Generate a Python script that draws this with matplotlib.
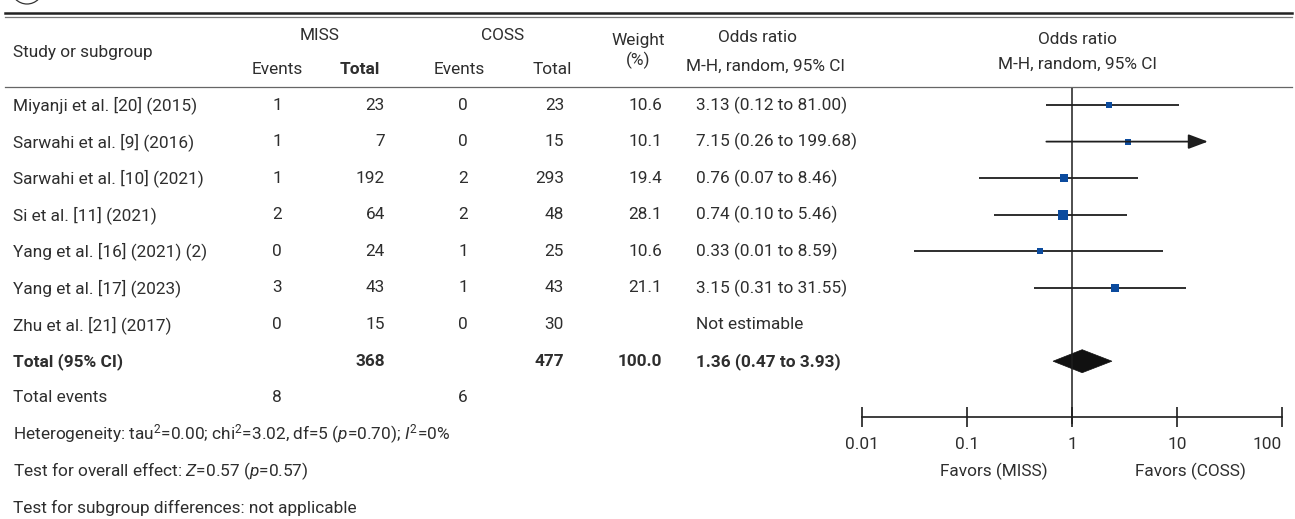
import numpy as np
import matplotlib
matplotlib.use("Agg")
import matplotlib.pyplot as plt
from matplotlib import font_manager
from matplotlib.patches import Polygon, Circle

# ---- data ----
studies = ["Miyanji et al. [20] (2015)", "Sarwahi et al. [9] (2016)",
           "Sarwahi et al. [10] (2021)", "Si et al. [11] (2021)",
           "Yang et al. [16] (2021) (2)", "Yang et al. [17] (2023)",
           "Zhu et al. [21] (2017)"]
miss_events = [1, 1, 1, 2, 0, 3, 0]
miss_total = [23, 7, 192, 64, 24, 43, 15]
coss_events = [0, 0, 2, 2, 1, 1, 0]
coss_total = [23, 15, 293, 48, 25, 43, 30]
weights = [10.6, 10.1, 19.4, 28.1, 10.6, 21.1, None]
or_text = ["3.13 (0.12 to 81.00)", "7.15 (0.26 to 199.68)", "0.76 (0.07 to 8.46)",
           "0.74 (0.10 to 5.46)", "0.33 (0.01 to 8.59)", "3.15 (0.31 to 31.55)",
           "Not estimable"]
# positions as drawn in the plot
or_pt = [2.25, 3.42, 0.84, 0.82, 0.50, 2.57, None]
or_lo = [0.57, 0.57, 0.13, 0.18, 0.031, 0.43, None]
or_hi = [10.5, 19.7, 4.25, 3.34, 7.4, 12.2, None]
or_arrow = [False, True, False, False, False, False, False]

total_miss, total_coss, total_weight = 368, 477, "100.0"
total_or_text = "1.36 (0.47 to 3.93)"
diamond = (0.66, 1.25, 2.40)  # lo, point, hi
events_miss, events_coss = 8, 6

het_text = r"Heterogeneity: tau$^2$=0.00; chi$^2$=3.02, df=5 ($p$=0.70); $I^2$=0%"
overall_text = r"Test for overall effect: $Z$=0.57 ($p$=0.57)"
subgroup_text = "Test for subgroup differences: not applicable"
xticks = [0.01, 0.1, 1, 10, 100]
xticklabels = ["0.01", "0.1", "1", "10", "100"]
favors = ["Favors (MISS)", "Favors (COSS)"]

# ---- style ----
avail = {f.name for f in font_manager.fontManager.ttflist}
fam = next(f for f in ["Roboto", "DejaVu Sans"] if f in avail)
plt.rcParams["font.family"] = [fam, "DejaVu Sans"]
plt.rcParams["mathtext.fontset"] = "custom"
plt.rcParams["mathtext.rm"] = fam
plt.rcParams["mathtext.it"] = fam + ":italic"
TXT = "#2e2e2e"
FS = 12.4
BLUE = "#0b4b9e"
LINE = "#1e1e1e"

W, H = 1295, 519
fig = plt.figure(figsize=(W / 100, H / 100), dpi=100)
tab = fig.add_axes([0, 0, 1, 1])
tab.set_xlim(0, W)
tab.set_ylim(H, 0)
tab.axis("off")

def row_y(i):
    return 105 + 36.6 * i

def t(x, y, s, ha="left", bold=False, **kw):
    tab.text(x, y, s, ha=ha, va="center", fontsize=FS, color=TXT,
             fontweight="bold" if bold else "normal", **kw)

# rules
tab.plot([5, 1292], [13, 13], color="#222222", lw=1.8)
tab.plot([5, 1292], [17, 17], color="#777777", lw=0.9)
tab.plot([5, 1292], [87, 87], color="#666666", lw=0.9)
tab.add_patch(Circle((27, -12), 16, fill=False, ec="#333333", lw=0.9))

# header
t(13, 52, "Study or subgroup")
t(320, 36, "MISS", ha="center")
t(503, 36, "COSS", ha="center")
t(277, 70, "Events", ha="center")
t(360, 70, "Total", ha="center", bold=True)
t(459, 70, "Events", ha="center")
t(552, 70, "Total", ha="center")
t(638, 41, "Weight", ha="center")
t(638, 60, "(%)", ha="center")
t(757, 38, "Odds ratio", ha="center")
t(766, 66, "M-H, random, 95% CI", ha="center")
t(1077, 39, "Odds ratio", ha="center")
t(1077, 64, "M-H, random, 95% CI", ha="center")

# study rows
for i, name in enumerate(studies):
    y = row_y(i)
    t(13, y, name)
    t(277, y, str(miss_events[i]), ha="center")
    t(385, y, str(miss_total[i]), ha="right")
    t(463, y, str(coss_events[i]), ha="center")
    t(564, y, str(coss_total[i]), ha="right")
    if weights[i] is not None:
        t(662, y, f"{weights[i]:.1f}", ha="right")
    t(696, y, or_text[i])

yt = row_y(len(studies))
t(13, yt, "Total (95% CI)", bold=True)
t(385, yt, str(total_miss), ha="right", bold=True)
t(564, yt, str(total_coss), ha="right", bold=True)
t(662, yt, total_weight, ha="right", bold=True)
t(696, yt, total_or_text, bold=True)

ye = row_y(len(studies) + 1)
t(13, ye, "Total events")
t(277, ye, str(events_miss), ha="center")
t(463, ye, str(events_coss), ha="center")
t(13, row_y(len(studies) + 2), het_text)
t(13, row_y(len(studies) + 3), overall_text)
t(13, row_y(len(studies) + 4), subgroup_text)

# ---- forest plot ----
x0, x1 = 862, 1282
ax = fig.add_axes([x0 / W, 0, (x1 - x0) / W, 1])
ax.set_xscale("log")
ax.set_xlim(0.01, 100)
ax.set_ylim(H, 0)
ax.patch.set_alpha(0)
for s in ["top", "left", "right"]:
    ax.spines[s].set_visible(False)
axis_y = 417
ax.spines["bottom"].set_position(("data", axis_y))
ax.spines["bottom"].set_color(LINE)
ax.spines["bottom"].set_linewidth(1.2)
ax.set_yticks([])
ax.set_xticks(xticks)
ax.set_xticklabels(xticklabels)
ax.xaxis.set_minor_locator(matplotlib.ticker.NullLocator())
ax.tick_params(axis="x", direction="inout", length=15, width=1.2, color=LINE,
               labelsize=FS, labelcolor=TXT, pad=7)
# last label kept inside the picture
ax.get_xticklabels()[-1].set_horizontalalignment("right")

ax.vlines(1, 88, axis_y + 7, color=LINE, lw=1.1)

for i in range(len(studies)):
    if or_pt[i] is None:
        continue
    y = row_y(i)
    if or_arrow[i]:
        ax.annotate("", xy=(or_hi[i], y), xytext=(or_lo[i], y),
                    arrowprops=dict(arrowstyle="-|>,head_length=1.2,head_width=0.45",
                                    color=LINE, lw=1.3, shrinkA=0, shrinkB=0,
                                    mutation_scale=10))
    else:
        ax.plot([or_lo[i], or_hi[i]], [y, y], color=LINE, lw=1.3, solid_capstyle="butt")
    side = 2.2 + 0.28 * weights[i]  # px
    ax.plot(or_pt[i], y, marker="s", ms=side * 0.72, color=BLUE, mec=BLUE, mew=0)

d_lo, d_pt, d_hi = diamond
ax.add_patch(Polygon([(d_lo, yt), (d_pt, yt - 11.5), (d_hi, yt), (d_pt, yt + 11.5)],
                     closed=True, fc="#111111", ec="#111111", lw=0.5))

ax.text(0.18, row_y(len(studies) + 3), favors[0], ha="center", va="center",
        fontsize=FS, color=TXT)
ax.text(13.5, row_y(len(studies) + 3), favors[1], ha="center", va="center",
        fontsize=FS, color=TXT)

fig.savefig("out.png", dpi=100)
